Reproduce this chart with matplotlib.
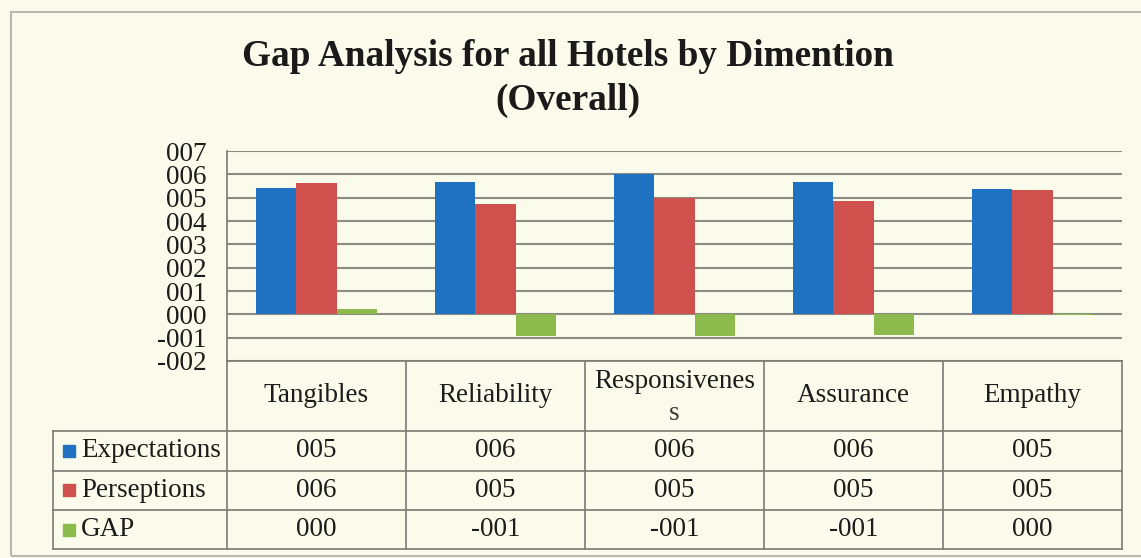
import numpy as np
import matplotlib
matplotlib.use('Agg')
import matplotlib.pyplot as plt
from matplotlib.transforms import blended_transform_factory
from matplotlib.patches import Rectangle

plt.rcParams['font.family'] = ['Liberation Serif', 'DejaVu Serif']

categories = ['Tangibles', 'Reliability', 'Responsivenes', 'Assurance', 'Empathy']
series_names = ['Expectations', 'Perseptions', 'GAP']
expectations = [5.41, 5.66, 6.03, 5.68, 5.36]
perceptions = [5.64, 4.75, 5.00, 4.85, 5.34]
gap = [0.23, -0.91, -0.92, -0.88, -0.02]
yticks = [-2, -1, 0, 1, 2, 3, 4, 5, 6, 7]
colors = ['#1F72C2', '#D0504E', '#8DBA4C']

bg = '#FAFBEA'
grid_c = '#8C8C84'
line_c = '#7A7A74'
txt_c = '#1C1C1C'

W, H = 1141, 558


def fmt(v):
    # excel number format "000"
    r = int(round(v))
    return ('-' if r < 0 else '') + '%03d' % abs(r)


fig = plt.figure(figsize=(W / 100, H / 100), dpi=100, facecolor=bg)
ax = fig.add_axes([227 / W, 1 - 361 / H, (1122 - 227) / W, (361 - 151) / H])
ax.set_facecolor(bg)

x = np.arange(len(categories)) + 0.5
bw = 0.224
for i, vals in enumerate([expectations, perceptions, gap]):
    ax.bar(x + (i - 1) * bw, vals, bw, color=colors[i], zorder=3)

ax.set_xlim(0, len(categories))
ax.set_ylim(-2, 7)
ax.set_yticks(yticks)
ax.set_yticklabels([fmt(t) for t in yticks], fontsize=19.5, color=txt_c)
ax.tick_params(axis='y', length=0, pad=15)
ax.set_xticks([])
for t in yticks:
    ax.axhline(t, color=grid_c, lw=1.5, zorder=1)
for s in ['top', 'right', 'bottom']:
    ax.spines[s].set_visible(False)
ax.spines['left'].set_color(line_c)
ax.spines['left'].set_linewidth(1.2)

# data table below the plot (x in data units, y in figure pixels)
tr = blended_transform_factory(ax.transData, fig.transFigure)
px = lambda y: 1 - y / H
row_y = [361, 431, 470.5, 510, 549]
leg_left = 53 / W

for k in range(len(categories) + 1):
    ax.plot([k, k], [px(361), px(549)], transform=tr, color=line_c, lw=1.2, clip_on=False)
ax.plot([0, len(categories)], [px(361), px(361)], transform=tr, color=line_c, lw=1.2, clip_on=False)
for y in row_y[1:]:
    fig.add_artist(plt.Line2D([leg_left, 1122 / W], [px(y), px(y)], color=line_c, lw=1.2))
fig.add_artist(plt.Line2D([leg_left, leg_left], [px(431), px(549)], color=line_c, lw=1.2))

for k, c in enumerate(categories):
    if c == 'Responsivenes':
        ax.text(x[k], px(382), c, transform=tr, ha='center', va='center', fontsize=19.5, color=txt_c)
        ax.text(x[k], px(413), 's', transform=tr, ha='center', va='center', fontsize=19.5, color='#3A3A3A')
    else:
        ax.text(x[k], px(396), c, transform=tr, ha='center', va='center', fontsize=19.5, color=txt_c)

for r, (name, vals) in enumerate(zip(series_names, [expectations, perceptions, gap])):
    yc = (row_y[r + 1] + row_y[r + 2]) / 2
    fig.add_artist(Rectangle((63 / W, px(yc + 6)), 12 / W, 12 / H, color=colors[r],
                             transform=fig.transFigure))
    fig.text(81 / W, px(yc), name, ha='left', va='center', fontsize=19.5, color=txt_c)
    for k, v in enumerate(vals):
        ax.text(x[k], px(yc), fmt(v), transform=tr, ha='center', va='center', fontsize=19.5, color=txt_c)

fig.text(568 / W, px(57), 'Gap Analysis for all Hotels by Dimention', ha='center', va='center',
         fontsize=26.8, fontweight='bold', color='#1A1A1A')
fig.text(568 / W, px(100), '(Overall)', ha='center', va='center',
         fontsize=26.8, fontweight='bold', color='#1A1A1A')

# outer chart border
fig.add_artist(Rectangle((11 / W, px(556)), 1140 / W, (556 - 12) / H, fill=False,
                         edgecolor='#B8B8B2', lw=1.5, transform=fig.transFigure))

fig.savefig('out.png', dpi=100, facecolor=bg)
